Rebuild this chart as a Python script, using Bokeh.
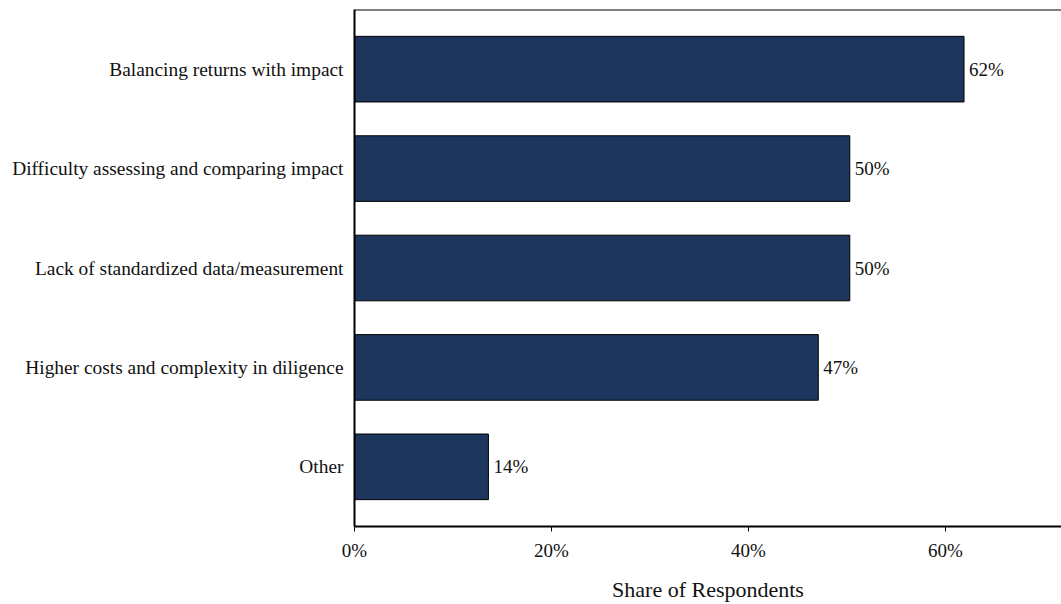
from bokeh.plotting import figure
from bokeh.models import ColumnDataSource, Range1d, FixedTicker, NumeralTickFormatter, Span, LabelSet
from bokeh.core.properties import value
from bokeh.embed import file_html
from bokeh.resources import INLINE

categories = [
    "Balancing returns with impact",
    "Difficulty assessing and comparing impact",
    "Lack of standardized data/measurement",
    "Higher costs and complexity in diligence",
    "Other",
]
shares = [0.619, 0.503, 0.503, 0.471, 0.136]

n = len(categories)
ypos = [n - 1 - i for i in range(n)]
labels = [f"{round(v * 100):.0f}%" for v in shares]

src = ColumnDataSource(dict(y=ypos, v=shares, lab=labels, cat=categories))

FONT = "Liberation Serif"
W, H = 1061, 604

p = figure(width=W, height=H, output_backend="svg", toolbar_location=None,
           x_range=Range1d(0, 0.718), y_range=Range1d(-0.6, n - 0.4),
           min_border_left=354, min_border_right=0, min_border_top=9,
           min_border_bottom=75)
p.outline_line_color = None
p.background_fill_color = "white"
p.border_fill_color = "white"
p.xgrid.visible = False
p.ygrid.visible = False

p.hbar(y="y", right="v", left=0, height=0.66, source=src,
       fill_color="#1c365e", line_color="black", line_width=1)

lbl = LabelSet(x="v", y="y", text="lab", source=src, x_offset=5,
               text_align="left", text_baseline="middle",
               text_font=value(FONT), text_font_size="19px", text_color="#111111")
p.add_layout(lbl)

top = Span(location=n - 0.4, dimension="width", line_color="black", line_width=2)
p.add_layout(top)

xa = p.xaxis[0]
xa.ticker = FixedTicker(ticks=[0, 0.2, 0.4, 0.6])
xa.formatter = NumeralTickFormatter(format="0%")
xa.axis_line_color = "black"
xa.axis_line_width = 2
xa.major_tick_in = 0
xa.major_tick_out = 5
xa.major_tick_line_color = "black"
xa.minor_tick_line_color = None
xa.major_label_text_font = FONT
xa.major_label_text_font_size = "19px"
xa.major_label_text_color = "#111111"
xa.major_label_standoff = 8
xa.axis_label = "Share of Respondents"
xa.axis_label_text_font = FONT
xa.axis_label_text_font_size = "22px"
xa.axis_label_text_font_style = "normal"
xa.axis_label_text_color = "#111111"
xa.axis_label_standoff = 13

ya = p.yaxis[0]
ya.ticker = FixedTicker(ticks=ypos)
ya.major_label_overrides = {y: c for y, c in zip(ypos, categories)}
ya.axis_line_color = "black"
ya.axis_line_width = 2
ya.major_tick_line_color = None
ya.major_tick_in = 0
ya.major_tick_out = 0
ya.minor_tick_line_color = None
ya.major_label_text_font = FONT
ya.major_label_text_font_size = "19.4px"
ya.major_label_text_color = "#111111"
ya.major_label_standoff = 11

open("out.html", "w").write(file_html(p, INLINE))
